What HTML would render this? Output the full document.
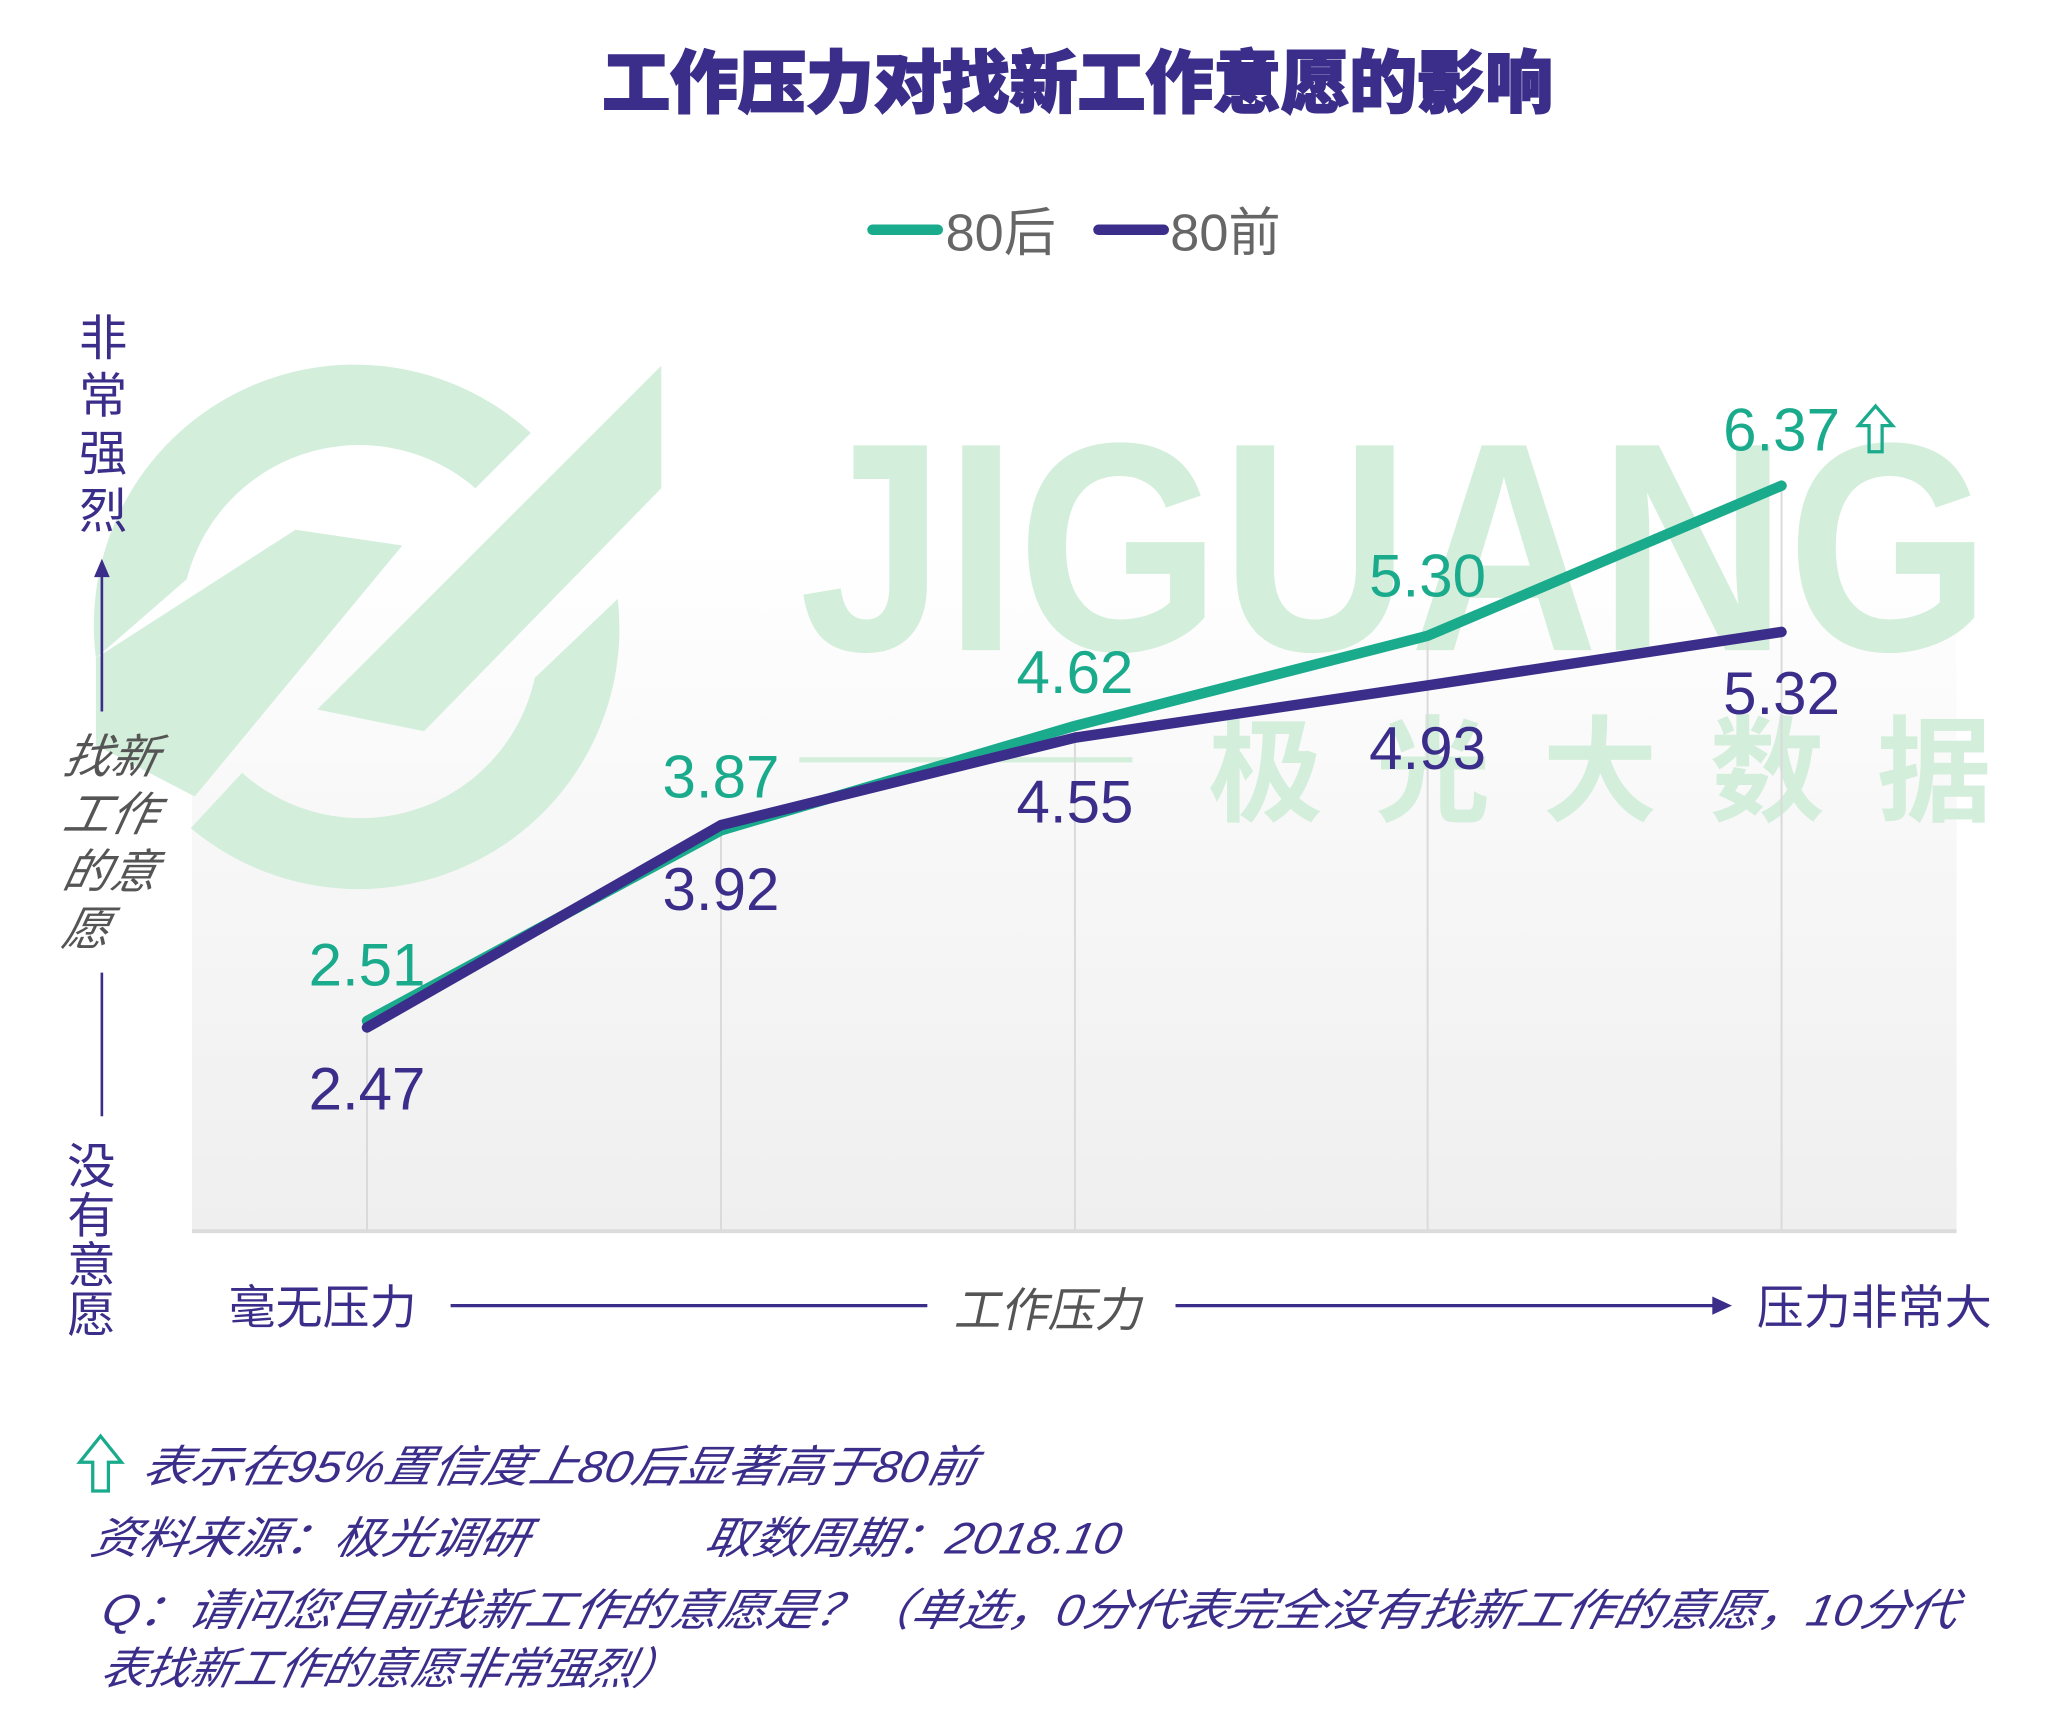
<!DOCTYPE html>
<html><head><meta charset="utf-8"><style>
html,body{margin:0;padding:0;background:#fff}
svg{display:block}
</style></head><body>
<svg width="2048" height="1709" viewBox="0 0 1568 1309" preserveAspectRatio="none" xmlns="http://www.w3.org/2000/svg">
<defs>
<linearGradient id="bg" x1="0" y1="0" x2="0" y2="1">
<stop offset="0" stop-color="#ffffff"/>
<stop offset="0.45" stop-color="#f7f7f7"/>
<stop offset="1" stop-color="#efefef"/>
</linearGradient>
</defs>
<rect x="0" y="0" width="1568" height="1309" fill="#fff"/>
<rect x="147" y="420" width="1351" height="522" fill="url(#bg)"/>
<line x1="147" y1="943" x2="1498" y2="943" stroke="#dcdcdc" stroke-width="3"/>
<!-- watermark -->
<g fill="#d4eedc" stroke="none">
<g transform="translate(61.3,268) scale(0.3027)">
<path d="M 1140 210 A 660 660 0 0 0 40 780 L 270 580 A 450 450 0 0 1 1000 350 Z"/>
<path d="M 1360 630 A 660 660 0 0 1 280 1210 L 410 1070 A 450 450 0 0 0 1150 830 Z"/>
<polygon points="1470,40 1470,350 870,965 600,910"/>
<polygon points="40,780 545,455 815,495 290,1130 40,1000"/>
</g>
<text x="612" y="498" font-family="Liberation Sans, sans-serif" font-weight="bold" font-size="228" textLength="912" lengthAdjust="spacingAndGlyphs">JIGUANG</text>
<text x="925" y="622" font-family="Liberation Sans, Noto Sans CJK SC, sans-serif" font-weight="bold" font-size="88" letter-spacing="40">极光大数据</text>
<rect x="612" y="580" width="255" height="4"/>
</g>
<!-- grid -->
<g stroke="#dadada" stroke-width="1.5">
<line x1="281" y1="782" x2="281" y2="942"/>
<line x1="552" y1="634" x2="552" y2="942"/>
<line x1="823" y1="560" x2="823" y2="942"/>
<line x1="1093" y1="487" x2="1093" y2="942"/>
<line x1="1364" y1="372" x2="1364" y2="942"/>
</g>
<!-- title -->
<text x="825" y="82" text-anchor="middle" font-family="Liberation Sans, Noto Sans CJK SC, sans-serif" font-weight="900" font-size="52" fill="#3b2d8a" stroke="#3b2d8a" stroke-width="1.5">工作压力对找新工作意愿的影响</text>
<!-- legend -->
<line x1="668" y1="176" x2="718" y2="176" stroke="#1aab8c" stroke-width="8" stroke-linecap="round"/>
<text x="724" y="192" font-family="Liberation Sans, Noto Sans CJK SC, sans-serif" font-size="40" fill="#666">80后</text>
<line x1="841" y1="176" x2="891" y2="176" stroke="#3b2d8a" stroke-width="8" stroke-linecap="round"/>
<text x="896" y="192" font-family="Liberation Sans, Noto Sans CJK SC, sans-serif" font-size="40" fill="#666">80前</text>
<!-- series -->
<polyline points="281,782 552,636 823,556 1093,487 1364,372" fill="none" stroke="#1aab8c" stroke-width="8" stroke-linecap="round" stroke-linejoin="round"/>
<polyline points="281,787 552,632 823,565 1093,525 1364,484" fill="none" stroke="#3b2d8a" stroke-width="8" stroke-linecap="round" stroke-linejoin="round"/>
<!-- labels -->
<g font-family="Liberation Sans, sans-serif" font-size="46" text-anchor="middle">
<g fill="#1aab8c">
<text x="281" y="755">2.51</text>
<text x="552" y="611">3.87</text>
<text x="823" y="531">4.62</text>
<text x="1093" y="457">5.30</text>
<text x="1364" y="345">6.37</text>
</g>
<g fill="#3b2d8a">
<text x="281" y="850">2.47</text>
<text x="552" y="697">3.92</text>
<text x="823" y="630">4.55</text>
<text x="1093" y="589">4.93</text>
<text x="1364" y="547">5.32</text>
</g>
</g>
<polygon points="1436,311 1449,326 1441,326 1441,346 1431,346 1431,326 1423,326" fill="none" stroke="#1aab8c" stroke-width="2.5"/>
<!-- y axis -->
<g font-family="Liberation Sans, Noto Sans CJK SC, sans-serif" font-size="37" fill="#3b2d8a" text-anchor="middle">
<text x="79" y="272">非</text>
<text x="79" y="316">常</text>
<text x="79" y="360">强</text>
<text x="79" y="404">烈</text>
<text x="70" y="906">没</text>
<text x="70" y="944">有</text>
<text x="70" y="982">意</text>
<text x="70" y="1020">愿</text>
</g>
<line x1="78" y1="545" x2="78" y2="440" stroke="#3b2d8a" stroke-width="2"/>
<polygon points="78,428 72,442 84,442" fill="#3b2d8a"/>
<line x1="78" y1="745" x2="78" y2="855" stroke="#3b2d8a" stroke-width="2"/>
<g font-family="Liberation Sans, Noto Sans CJK SC, sans-serif" font-size="36" fill="#555" font-style="italic">
<text x="48" y="592" transform="skewX(-12) translate(125,0)">找新</text>
<text x="48" y="636" transform="skewX(-12) translate(134,0)">工作</text>
<text x="48" y="680" transform="skewX(-12) translate(143,0)">的意</text>
<text x="48" y="724" transform="skewX(-12) translate(152,0)">愿</text>
</g>
<!-- x axis -->
<g font-family="Liberation Sans, Noto Sans CJK SC, sans-serif" font-size="36">
<text x="175" y="1014" fill="#3b2d8a">毫无压力</text>
<text x="1345" y="1014" fill="#3b2d8a">压力非常大</text>
<text x="730" y="1016" fill="#555" transform="skewX(-12) translate(216,0)">工作压力</text>
</g>
<line x1="345" y1="1000" x2="710" y2="1000" stroke="#3b2d8a" stroke-width="2.5"/>
<line x1="900" y1="1000" x2="1315" y2="1000" stroke="#3b2d8a" stroke-width="2.5"/>
<polygon points="1326,1000 1311,993 1311,1007" fill="#3b2d8a"/>
<!-- footnotes -->
<polygon points="77,1100 93,1120 83,1120 83,1142 71,1142 71,1120 61,1120" fill="none" stroke="#1aab8c" stroke-width="2.5"/>
<g font-family="Liberation Sans, Noto Sans CJK SC, sans-serif" font-size="34" fill="#3b2d8a" font-style="italic">
<text x="108" y="1135" transform="skewX(-12) translate(241,0)" textLength="637" lengthAdjust="spacingAndGlyphs">表示在95%置信度上80后显著高于80前</text>
<text x="68" y="1190" transform="skewX(-12) translate(253,0)" textLength="335" lengthAdjust="spacingAndGlyphs">资料来源：极光调研</text>
<text x="538" y="1190" transform="skewX(-12) translate(253,0)" textLength="318" lengthAdjust="spacingAndGlyphs">取数周期：2018.10</text>
<text x="76" y="1245" transform="skewX(-12) translate(265,0)" textLength="1420" lengthAdjust="spacingAndGlyphs">Q：请问您目前找新工作的意愿是？（单选，0分代表完全没有找新工作的意愿，10分代</text>
<text x="76" y="1290" transform="skewX(-12) translate(274,0)">表找新工作的意愿非常强烈）</text>
</g>
</svg>
</body></html>
